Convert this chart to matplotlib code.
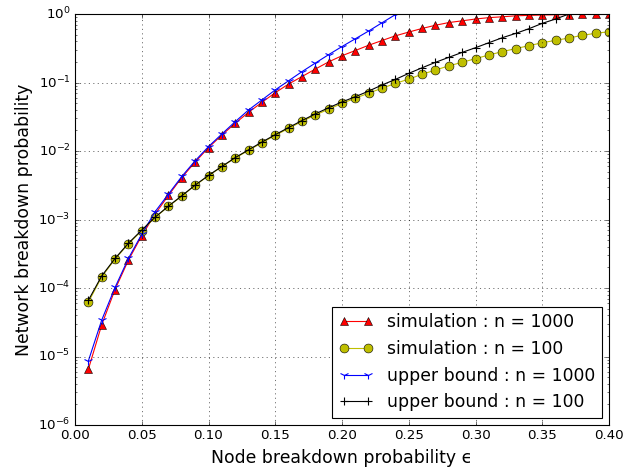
import numpy as np
import matplotlib
matplotlib.use('Agg')
import matplotlib.pyplot as plt

plt.style.use('classic')

# node breakdown probability
eps = np.round(np.arange(1, 41) * 0.01, 2)

# simulation, n = 1000
sim_1000 = [6.5e-6, 2.9e-5, 9.5e-5, 2.55e-4, 5.8e-4, 1.2e-3, 2.25e-3, 4.1e-3, 6.9e-3, 1.12e-2,
            1.71e-2, 2.54e-2, 3.67e-2, 5.13e-2, 7.1e-2, 9.5e-2, 0.122, 0.157, 0.2, 0.246,
            0.293, 0.35, 0.41, 0.48, 0.545, 0.615, 0.685, 0.75, 0.795, 0.845,
            0.885, 0.91, 0.94, 0.955, 0.966, 0.975, 0.983, 0.99, 0.994, 0.997]

# simulation, n = 100
sim_100 = [6.2e-5, 1.45e-4, 2.65e-4, 4.4e-4, 6.9e-4, 1.07e-3, 1.55e-3, 2.2e-3, 3.15e-3, 4.35e-3,
           5.9e-3, 7.9e-3, 1.02e-2, 1.32e-2, 1.69e-2, 2.14e-2, 2.7e-2, 3.35e-2, 4.08e-2, 4.95e-2,
           5.9e-2, 7.0e-2, 8.25e-2, 9.7e-2, 0.112, 0.132, 0.152, 0.175, 0.197, 0.223,
           0.252, 0.282, 0.312, 0.345, 0.38, 0.413, 0.446, 0.489, 0.522, 0.552]

# upper bound, n = 1000
ub_1000 = [8.6e-6, 3.4e-5, 1.02e-4, 2.7e-4, 6.1e-4, 1.3e-3, 2.35e-3, 4.25e-3, 7.2e-3, 1.16e-2,
           1.77e-2, 2.68e-2, 3.97e-2, 5.56e-2, 7.8e-2, 0.106, 0.144, 0.192, 0.255, 0.335,
           0.435, 0.565, 0.745, 0.98, 1.28]

# upper bound, n = 100
ub_100 = [6.6e-5, 1.5e-4, 2.7e-4, 4.5e-4, 7.0e-4, 1.08e-3, 1.57e-3, 2.22e-3, 3.18e-3, 4.4e-3,
          5.95e-3, 8.0e-3, 1.04e-2, 1.35e-2, 1.73e-2, 2.2e-2, 2.78e-2, 3.48e-2, 4.28e-2, 5.2e-2,
          6.2e-2, 7.5e-2, 9.2e-2, 0.111, 0.136, 0.164, 0.197, 0.233, 0.275, 0.322,
          0.381, 0.45, 0.52, 0.61, 0.73, 0.845, 1.0]

fig = plt.figure(figsize=(631 / 80, 474 / 80), dpi=80)
fig.subplots_adjust(left=75 / 631, right=609 / 631, bottom=49 / 474, top=460 / 474)
ax = fig.add_subplot(111)

ax.plot(eps, sim_1000, 'r^-', ms=8, lw=1, label='simulation : n = 1000')
ax.plot(eps, sim_100, 'yo-', ms=8, lw=1, label='simulation : n = 100')
ax.plot(eps[:len(ub_1000)], ub_1000, 'b1-', ms=8, mew=1, lw=1, label='upper bound : n = 1000')
ax.plot(eps[:len(ub_100)], ub_100, 'k+-', ms=8, mew=1, lw=1, label='upper bound : n = 100')

ax.set_yscale('log')
ax.set_xlim(0, 0.4)
ax.set_ylim(1e-6, 1)
ax.grid(True)
ax.set_xlabel('Node breakdown probability \u03f5', fontsize=15.5, labelpad=6)
ax.set_ylabel('Network breakdown probability', fontsize=15.5)
ax.legend(loc='lower right', fontsize=15.5, borderaxespad=0.4)

fig.savefig('out.png', dpi=80)
